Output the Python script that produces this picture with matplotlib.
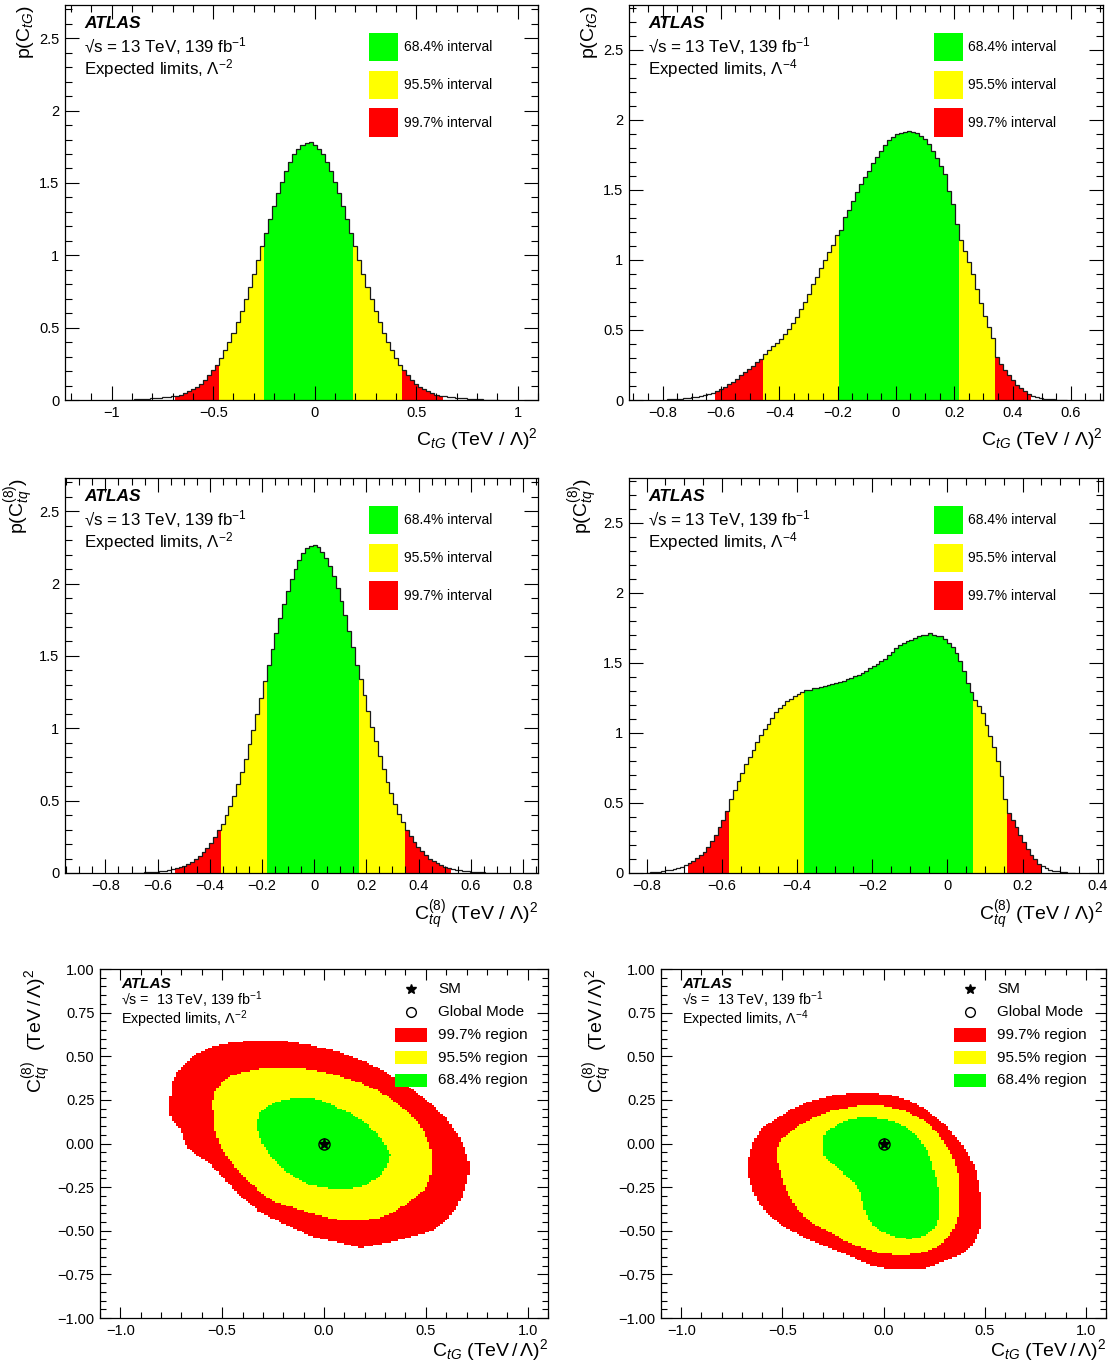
import numpy as np
import matplotlib
matplotlib.use("Agg")
import matplotlib.pyplot as plt
from matplotlib.patches import Rectangle
from matplotlib.path import Path
from matplotlib.colors import ListedColormap, BoundaryNorm
from matplotlib.ticker import MultipleLocator, FuncFormatter

plt.rcParams['font.family'] = ['Liberation Sans', 'DejaVu Sans']
plt.rcParams['mathtext.fontset'] = 'custom'
plt.rcParams['mathtext.rm'] = 'Liberation Sans'
plt.rcParams['mathtext.it'] = 'Liberation Sans:italic'
plt.rcParams['mathtext.bf'] = 'Liberation Sans:bold'

GREEN, YELLOW, RED = '#00ff00', '#ffff00', '#ff0000'

# -----------------------------
# 1D posteriors (bin heights)
# -----------------------------
# C_tG, Lambda^-2 : bins of 0.02 starting at -0.99
ctg2_lo, ctg2_w = -0.99, 0.02
ctg2_h = [0.001, 0.001, 0.002, 0.002, 0.003, 0.004, 0.005, 0.007, 0.009, 0.011,
          0.013, 0.016, 0.019, 0.023, 0.027, 0.031, 0.037, 0.047, 0.059, 0.074,
          0.092, 0.114, 0.140, 0.170, 0.205, 0.245, 0.292, 0.344, 0.402, 0.466,
          0.537, 0.613, 0.695, 0.782, 0.872, 0.966, 1.061, 1.156, 1.250, 1.342,
          1.428, 1.509, 1.581, 1.644, 1.697, 1.737, 1.764, 1.778,
          1.781, 1.764, 1.737, 1.697, 1.644, 1.581, 1.509, 1.428, 1.342, 1.250,
          1.156, 1.061, 0.966, 0.872, 0.782, 0.695, 0.613, 0.537, 0.466, 0.402,
          0.344, 0.292, 0.245, 0.205, 0.170, 0.140, 0.114, 0.092, 0.074, 0.059,
          0.047, 0.037, 0.031, 0.027, 0.023, 0.019, 0.016, 0.013, 0.011, 0.009,
          0.007, 0.005, 0.004, 0.003, 0.002, 0.002, 0.001]
ctg2_int = [(-0.25, 0.19), (-0.47, 0.43), (-0.69, 0.63)]

# C_tG, Lambda^-4
ctg4_lo, ctg4_w = -0.7841, 0.0137
ctg4_h = [0.004, 0.006, 0.008, 0.010, 0.013, 0.016, 0.019, 0.024, 0.029, 0.035,
          0.042, 0.050, 0.062,
          0.075, 0.092, 0.112, 0.130, 0.152, 0.175, 0.198, 0.220, 0.243, 0.268, 0.295,
          0.326, 0.355, 0.385, 0.410, 0.435, 0.468, 0.505, 0.548, 0.595, 0.648,
          0.700, 0.760, 0.825, 0.880, 0.940, 1.000, 1.055, 1.110, 1.180,
          1.214, 1.310, 1.360, 1.420, 1.488, 1.540, 1.590, 1.635, 1.690, 1.735,
          1.780, 1.820, 1.855, 1.880, 1.900, 1.905, 1.915, 1.920, 1.915, 1.905,
          1.885, 1.865, 1.830, 1.775, 1.730, 1.670, 1.610, 1.490, 1.400, 1.260,
          1.140, 1.065, 0.985, 0.900, 0.790, 0.690, 0.600, 0.520, 0.440,
          0.310, 0.260, 0.215, 0.175, 0.140, 0.110, 0.085, 0.062, 0.045,
          0.031, 0.021, 0.014, 0.010, 0.007, 0.005, 0.003, 0.002, 0.001]
ctg4_int = [(-0.196, 0.217), (-0.456, 0.339), (-0.62, 0.462)]

# C_tq(8), Lambda^-2
ctq2_lo, ctq2_w = -0.6961, 0.0147
ctq2_h = [0.001, 0.002, 0.003, 0.004, 0.006, 0.008, 0.010, 0.013, 0.016, 0.020, 0.025,
          0.034, 0.041, 0.050, 0.062, 0.076, 0.094, 0.116, 0.142, 0.172, 0.210, 0.250, 0.295,
          0.340, 0.400, 0.465, 0.535, 0.615, 0.700, 0.790, 0.890, 0.990, 1.100, 1.210, 1.330,
          1.440, 1.550, 1.660, 1.760, 1.860, 1.950, 2.030, 2.100, 2.160, 2.210, 2.245, 2.260,
          2.270, 2.250, 2.220, 2.180, 2.120, 2.050, 1.970, 1.880, 1.780, 1.670, 1.560, 1.440,
          1.340, 1.230, 1.120, 1.010, 0.910, 0.810, 0.720, 0.630, 0.550, 0.480, 0.410, 0.350,
          0.300, 0.255, 0.215, 0.180, 0.150, 0.122, 0.100, 0.082, 0.066, 0.053, 0.043, 0.035,
          0.029, 0.024, 0.019, 0.015, 0.012, 0.009, 0.007, 0.005, 0.004, 0.003, 0.002, 0.001]
ctq2_int = [(-0.182, 0.171), (-0.358, 0.348), (-0.535, 0.525)]

# C_tq(8), Lambda^-4
ctq4_lo, ctq4_w = -0.801, 0.01
ctq4_h = [0.003, 0.005, 0.007, 0.010, 0.014, 0.018, 0.023, 0.029, 0.036, 0.045, 0.055,
          0.070, 0.088, 0.104, 0.125, 0.152, 0.185, 0.228, 0.270, 0.325, 0.380, 0.445,
          0.530, 0.590, 0.660, 0.715, 0.775, 0.830, 0.880, 0.935, 0.985, 1.025,
          1.065, 1.110, 1.150, 1.180, 1.200, 1.225, 1.245, 1.265, 1.280, 1.295,
          1.305, 1.310, 1.318, 1.322, 1.330, 1.338, 1.345, 1.350, 1.358, 1.365,
          1.372, 1.385, 1.395, 1.405, 1.415, 1.428, 1.445, 1.460, 1.478, 1.495,
          1.515, 1.530, 1.555, 1.580, 1.605, 1.628, 1.640, 1.655, 1.665, 1.675,
          1.690, 1.698, 1.700, 1.712, 1.700, 1.695, 1.690, 1.670, 1.640, 1.610,
          1.570, 1.510, 1.440, 1.360, 1.290,
          1.236, 1.190, 1.140, 1.060, 0.980, 0.900, 0.800, 0.690, 0.530,
          0.430, 0.380, 0.330, 0.270, 0.220, 0.170, 0.130, 0.100, 0.065,
          0.048, 0.034, 0.024, 0.016, 0.011, 0.007, 0.005, 0.003, 0.002]
ctq4_int = [(-0.381, 0.069), (-0.581, 0.159), (-0.691, 0.249)]

interval_labels = ['68.4% interval', '95.5% interval', '99.7% interval']

# -----------------------------
# 2D credible regions (boundary points)
# -----------------------------
reg2_red = [(-0.28, 0.595), (-0.40, 0.585), (-0.51, 0.57), (-0.58, 0.54), (-0.63, 0.51),
            (-0.68, 0.46), (-0.72, 0.41), (-0.745, 0.35), (-0.75, 0.30), (-0.765, 0.18),
            (-0.74, 0.13), (-0.71, 0.09), (-0.69, 0.03), (-0.67, -0.03), (-0.62, -0.07),
            (-0.58, -0.10), (-0.54, -0.14), (-0.51, -0.18), (-0.46, -0.24), (-0.42, -0.29),
            (-0.37, -0.34), (-0.32, -0.39), (-0.25, -0.43), (-0.18, -0.47), (-0.12, -0.50),
            (-0.05, -0.54), (0.05, -0.56), (0.12, -0.58), (0.18, -0.60), (0.26, -0.58),
            (0.35, -0.56), (0.45, -0.53), (0.53, -0.50), (0.60, -0.44), (0.65, -0.37),
            (0.68, -0.30), (0.70, -0.22), (0.72, -0.14), (0.70, -0.06), (0.67, 0.03),
            (0.60, 0.145), (0.55, 0.20), (0.49, 0.26), (0.42, 0.32), (0.35, 0.375),
            (0.27, 0.43), (0.18, 0.48), (0.09, 0.52), (0.0, 0.547), (-0.09, 0.57),
            (-0.18, 0.585)]
reg2_yellow = [(-0.18, 0.43), (-0.28, 0.43), (-0.35, 0.42), (-0.42, 0.40), (-0.46, 0.385),
               (-0.50, 0.35), (-0.53, 0.31), (-0.545, 0.25), (-0.545, 0.20), (-0.54, 0.12),
               (-0.53, 0.05), (-0.50, -0.03), (-0.46, -0.10), (-0.41, -0.17), (-0.35, -0.24),
               (-0.30, -0.29), (-0.25, -0.33), (-0.17, -0.36), (-0.09, -0.39), (0.0, -0.42),
               (0.09, -0.44), (0.18, -0.44), (0.26, -0.43), (0.33, -0.40), (0.40, -0.35),
               (0.46, -0.30), (0.50, -0.256), (0.52, -0.20), (0.53, -0.14), (0.53, -0.07),
               (0.52, -0.01), (0.49, 0.07), (0.46, 0.126), (0.41, 0.18), (0.35, 0.24),
               (0.27, 0.30), (0.18, 0.346), (0.09, 0.38), (0.0, 0.41), (-0.09, 0.425)]
reg2_green = [(-0.14, 0.26), (-0.07, 0.265), (0.0, 0.24), (0.06, 0.21), (0.12, 0.18),
              (0.19, 0.13), (0.25, 0.07), (0.30, 0.0), (0.325, -0.065), (0.31, -0.13),
              (0.28, -0.18), (0.23, -0.22), (0.18, -0.25), (0.10, -0.26), (0.05, -0.26),
              (-0.07, -0.237), (-0.13, -0.20), (-0.19, -0.16), (-0.24, -0.10), (-0.28, -0.046),
              (-0.31, 0.02), (-0.33, 0.09), (-0.32, 0.18), (-0.28, 0.21), (-0.25, 0.23),
              (-0.20, 0.25)]

reg4_red = [(-0.15, 0.29), (-0.06, 0.29), (0.02, 0.28), (0.08, 0.265), (0.14, 0.24),
            (0.20, 0.20), (0.26, 0.145), (0.31, 0.10), (0.35, 0.05), (0.39, -0.01),
            (0.42, -0.065), (0.44, -0.11), (0.46, -0.16), (0.47, -0.22), (0.48, -0.29),
            (0.485, -0.39), (0.48, -0.486), (0.46, -0.54), (0.44, -0.58), (0.39, -0.63),
            (0.33, -0.66), (0.27, -0.69), (0.21, -0.715), (0.14, -0.725), (0.07, -0.725),
            (0.0, -0.715), (-0.066, -0.696), (-0.12, -0.67), (-0.17, -0.64), (-0.24, -0.61),
            (-0.31, -0.58), (-0.38, -0.545), (-0.45, -0.505), (-0.50, -0.47), (-0.55, -0.43),
            (-0.59, -0.38), (-0.62, -0.33), (-0.65, -0.26), (-0.67, -0.18), (-0.675, -0.12),
            (-0.66, -0.05), (-0.645, 0.01), (-0.60, 0.09), (-0.54, 0.136), (-0.50, 0.165),
            (-0.45, 0.20), (-0.38, 0.235), (-0.31, 0.26), (-0.23, 0.28)]
reg4_yellow = [(-0.205, 0.20), (-0.13, 0.215), (-0.066, 0.22), (0.0, 0.215), (0.07, 0.20),
               (0.14, 0.17), (0.21, 0.126), (0.26, 0.07), (0.30, 0.01), (0.33, -0.05),
               (0.35, -0.10), (0.37, -0.18), (0.377, -0.256), (0.375, -0.34), (0.368, -0.43),
               (0.345, -0.49), (0.316, -0.54), (0.27, -0.59), (0.21, -0.62), (0.108, -0.64),
               (0.04, -0.635), (-0.03, -0.625), (-0.09, -0.605), (-0.15, -0.58), (-0.21, -0.545),
               (-0.27, -0.505), (-0.33, -0.47), (-0.38, -0.43), (-0.43, -0.37), (-0.465, -0.31),
               (-0.49, -0.24), (-0.51, -0.16), (-0.525, -0.10), (-0.53, -0.046), (-0.515, 0.0),
               (-0.50, 0.03), (-0.45, 0.08), (-0.41, 0.107), (-0.36, 0.14), (-0.31, 0.164),
               (-0.26, 0.185)]
reg4_green = [(-0.257, 0.088), (-0.21, 0.12), (-0.17, 0.136), (-0.11, 0.15), (-0.066, 0.149),
              (0.0, 0.14), (0.056, 0.126), (0.10, 0.10), (0.142, 0.069), (0.18, 0.02),
              (0.21, -0.027), (0.235, -0.09), (0.246, -0.14), (0.26, -0.20), (0.27, -0.256),
              (0.28, -0.31), (0.28, -0.37), (0.275, -0.42), (0.264, -0.466), (0.24, -0.50),
              (0.21, -0.524), (0.17, -0.54), (0.125, -0.547), (0.06, -0.535), (0.003, -0.514),
              (-0.04, -0.48), (-0.066, -0.447), (-0.09, -0.40), (-0.10, -0.35), (-0.11, -0.30),
              (-0.118, -0.275), (-0.135, -0.245), (-0.153, -0.218), (-0.18, -0.19), (-0.205, -0.16),
              (-0.24, -0.13), (-0.274, -0.10), (-0.295, -0.06), (-0.30, -0.027), (-0.295, 0.04),
              (-0.28, 0.07)]

sm_point = (0.0, 0.0)
mode2_point = (0.0, 0.0)
mode4_point = (0.0, 0.0)
region_labels = ['99.7% region', '95.5% region', '68.4% region']


def num_fmt(v, pos):
    if abs(v) < 1e-9:
        return '0'
    return ('%g' % round(v, 6)).replace('-', '\u2212')


def style_ticks(ax, length=9):
    ax.tick_params(which='both', direction='in', top=True, right=True, width=0.8)
    ax.tick_params(which='major', length=length, labelsize=10.5, pad=4)
    ax.tick_params(which='minor', length=length / 2)
    for s in ax.spines.values():
        s.set_linewidth(0.9)


def hist_panel(ax, lo, w, heights, ints, xlim, ylim, xmajor, xminor, xlabel, ylabel, lam):
    heights = np.asarray(heights)
    edges = lo + w * np.arange(len(heights) + 1)
    centers = 0.5 * (edges[:-1] + edges[1:])
    (g0, g1), (y0, y1), (r0, r1) = ints
    in_g = (centers >= g0) & (centers <= g1)
    in_y = (centers >= y0) & (centers <= y1) & ~in_g
    in_r = (centers >= r0) & (centers <= r1) & ~in_g & ~in_y
    for mask, col in [(in_r, RED), (in_y, YELLOW), (in_g, GREEN)]:
        ax.stairs(np.where(mask, heights, 0.0), edges, fill=True, color=col, lw=0)
    ax.stairs(heights, edges, color='#1a1a1a', linewidth=0.9)
    ax.set_xlim(*xlim)
    ax.set_ylim(*ylim)
    ax.xaxis.set_major_locator(MultipleLocator(xmajor))
    ax.xaxis.set_minor_locator(MultipleLocator(xminor))
    ax.yaxis.set_major_locator(MultipleLocator(0.5))
    ax.yaxis.set_minor_locator(MultipleLocator(0.1))
    ax.xaxis.set_major_formatter(FuncFormatter(num_fmt))
    ax.yaxis.set_major_formatter(FuncFormatter(num_fmt))
    style_ticks(ax, length=10)

    ax.text(0.040, 0.952, 'ATLAS', transform=ax.transAxes, fontsize=12.5,
            fontweight='bold', fontstyle='italic', va='center')
    ax.text(0.040, 0.897, '\u221as = 13 TeV, 139 fb$^{-1}$', transform=ax.transAxes,
            fontsize=12.2, va='center')
    ax.text(0.040, 0.840, 'Expected limits, \u039b$^{-%d}$' % lam, transform=ax.transAxes,
            fontsize=12.2, va='center')

    for i, (col, lab) in enumerate(zip([GREEN, YELLOW, RED], interval_labels)):
        top = 0.929 - i * 0.0955
        ax.add_patch(Rectangle((0.643, top - 0.071), 0.062, 0.071,
                               transform=ax.transAxes, color=col, lw=0))
        ax.text(0.716, top - 0.0355, lab, transform=ax.transAxes,
                fontsize=10, va='center')

    ax.set_xlabel(xlabel, loc='right', fontsize=14)
    ax.xaxis.set_label_coords(1.0, -0.065)
    ax.set_ylabel(ylabel, loc='top', fontsize=14)
    ax.yaxis.set_label_coords(-0.062, 1.0)


def region_panel(ax, red, yellow, green, mode_point, lam):
    xe = np.linspace(-1.1, 1.1, 201)
    ye = np.linspace(-1.0, 1.0, 201)
    xc = 0.5 * (xe[:-1] + xe[1:])
    yc = 0.5 * (ye[:-1] + ye[1:])
    gx, gy = np.meshgrid(xc, yc)
    pts = np.column_stack([gx.ravel(), gy.ravel()])
    z = np.zeros(len(pts))
    for level, poly in enumerate([red, yellow, green], start=1):
        inside = Path(poly).contains_points(pts)
        z[inside] = level
    z = np.ma.masked_equal(z.reshape(gx.shape), 0)
    cmap = ListedColormap([RED, YELLOW, GREEN])
    norm = BoundaryNorm([0.5, 1.5, 2.5, 3.5], 3)
    ax.pcolormesh(xe, ye, z, cmap=cmap, norm=norm, shading='flat')

    ax.plot(*sm_point, marker='*', color='k', ms=8, ls='none')
    ax.plot(*mode_point, marker='o', mfc='none', mec='k', ms=8, mew=1, ls='none')

    ax.set_xlim(-1.1, 1.1)
    ax.set_ylim(-1.0, 1.0)
    ax.xaxis.set_major_locator(MultipleLocator(0.5))
    ax.xaxis.set_minor_locator(MultipleLocator(0.1))
    ax.yaxis.set_major_locator(MultipleLocator(0.25))
    ax.yaxis.set_minor_locator(MultipleLocator(0.05))
    ax.xaxis.set_major_formatter(FuncFormatter(lambda v, p: ('%.1f' % v).replace('-', '\u2212')))
    ax.yaxis.set_major_formatter(FuncFormatter(lambda v, p: ('%.2f' % v).replace('-', '\u2212')))
    style_ticks(ax, length=8)

    ax.text(0.047, 0.957, 'ATLAS', transform=ax.transAxes, fontsize=11,
            fontweight='bold', fontstyle='italic', va='center')
    ax.text(0.047, 0.913, '\u221as =  13 TeV, 139 fb$^{-1}$', transform=ax.transAxes,
            fontsize=10.3, va='center')
    ax.text(0.047, 0.855, 'Expected limits, \u039b$^{-%d}$' % lam, transform=ax.transAxes,
            fontsize=10.3, va='center')

    rows = [0.943, 0.877, 0.811, 0.746, 0.681]
    ax.plot(0.694, rows[0], marker='*', color='k', ms=7, transform=ax.transAxes, clip_on=False)
    ax.text(0.755, rows[0], 'SM', transform=ax.transAxes, fontsize=11, va='center')
    ax.plot(0.694, rows[1], marker='o', mfc='none', mec='k', ms=7, mew=1,
            transform=ax.transAxes, clip_on=False)
    ax.text(0.755, rows[1], 'Global Mode', transform=ax.transAxes, fontsize=11, va='center')
    for r, col, lab in zip(rows[2:], [RED, YELLOW, GREEN], region_labels):
        ax.add_patch(Rectangle((0.658, r - 0.019), 0.072, 0.038,
                               transform=ax.transAxes, color=col, lw=0))
        ax.text(0.755, r, lab, transform=ax.transAxes, fontsize=11, va='center')

    ax.set_xlabel(r'C$_{tG}$ (TeV$\,/\,\Lambda$)$^2$', loc='right', fontsize=14)
    ax.xaxis.set_label_coords(1.0, -0.055)
    ax.set_ylabel(r'C$_{tq}^{(8)}$  (TeV$\,/\,\Lambda$)$^2$', loc='top', fontsize=14)
    ax.yaxis.set_label_coords(-0.103, 1.0)


fig = plt.figure(figsize=(11.11, 13.65), dpi=100)
W, H = 1111.0, 1365.0


def add_axes(left, top, right, bottom):
    return fig.add_axes([left / W, 1 - bottom / H, (right - left) / W, (bottom - top) / H])


ax1 = add_axes(65, 5, 538, 400)
ax2 = add_axes(629, 5, 1103, 400)
ax3 = add_axes(65, 478, 538, 873)
ax4 = add_axes(629, 478, 1103, 873)
ax5 = add_axes(100, 969, 548, 1318)
ax6 = add_axes(661, 969, 1106, 1318)

xl_ctg = 'C$_{tG}$ (TeV / \u039b)$^2$'
xl_ctq = 'C$_{tq}^{(8)}$ (TeV / \u039b)$^2$'

hist_panel(ax1, ctg2_lo, ctg2_w, ctg2_h, ctg2_int, (-1.23, 1.10), (0, 2.73), 0.5, 0.1,
           xl_ctg, r'p(C$_{tG}$)', 2)
hist_panel(ax2, ctg4_lo, ctg4_w, ctg4_h, ctg4_int, (-0.915, 0.71), (0, 2.82), 0.2, 0.05,
           xl_ctg, r'p(C$_{tG}$)', 4)
hist_panel(ax3, ctq2_lo, ctq2_w, ctq2_h, ctq2_int, (-0.955, 0.858), (0, 2.73), 0.2, 0.05,
           xl_ctq, r'p(C$_{tq}^{(8)}$)', 2)
hist_panel(ax4, ctq4_lo, ctq4_w, ctq4_h, ctq4_int, (-0.847, 0.414), (0, 2.82), 0.2, 0.05,
           xl_ctq, r'p(C$_{tq}^{(8)}$)', 4)

region_panel(ax5, reg2_red, reg2_yellow, reg2_green, mode2_point, 2)
region_panel(ax6, reg4_red, reg4_yellow, reg4_green, mode4_point, 4)

fig.savefig('out.png', dpi=100)
